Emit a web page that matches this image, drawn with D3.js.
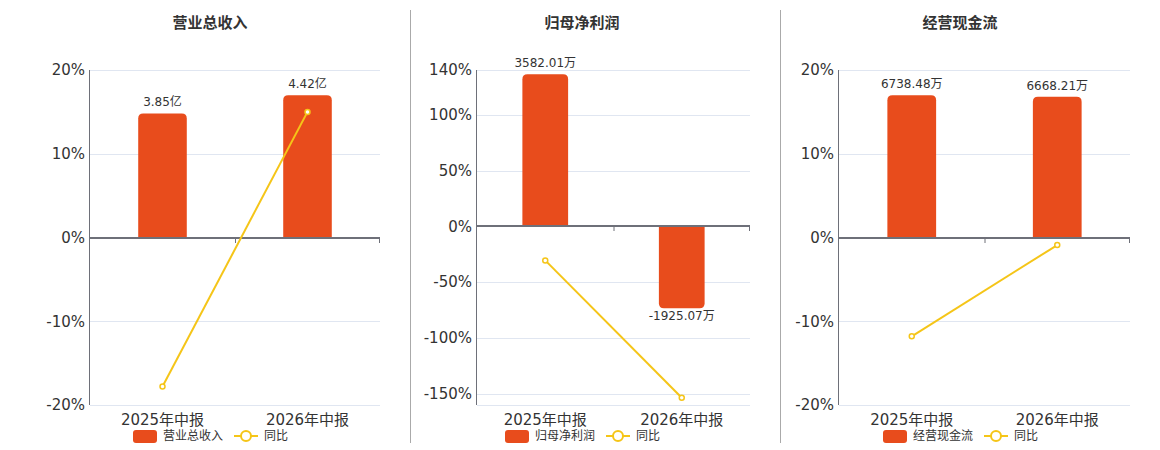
<!DOCTYPE html>
<html>
<head>
<meta charset="utf-8">
<script src="https://cdn.jsdelivr.net/npm/d3@7"></script>
<style>
  body { margin: 0; background: #fff; }
  text { font-family: "DejaVu Sans", "Noto Sans CJK SC", sans-serif; }
</style>
</head>
<body>
<div class="chart"></div>
<script>
var svgWidth = 1160;
var svgHeight = 450;

// data
var categories = ["2025年中报", "2026年中报"];
var titles = ["营业总收入", "归母净利润", "经营现金流"];

var revenueValues = [3.85, 4.42];
var revenueLabels = ["3.85亿", "4.42亿"];
var revenueYoy = [-17.8, 15.0];

var profitValues = [3582.01, -1925.07];
var profitLabels = ["3582.01万", "-1925.07万"];
var profitYoy = [-30.5, -153.5];

var cashValues = [6738.48, 6668.21];
var cashLabels = ["6738.48万", "6668.21万"];
var cashYoy = [-11.8, -0.9];

// percent axes and the hidden bar axes
var pctDomains = [[-20, 20], [-160, 140], [-20, 20]];
var pctTicks = [[-20, -10, 0, 10, 20], [-150, -100, -50, 0, 50, 100, 140], [-20, -10, 0, 10, 20]];
var barDomains = [[-5.2, 5.2], [-4200, 3680], [-7930, 7930]];

var barColor = "#e84c1c";
var lineColor = "#f5c518";

var panels = [
  { left: 90, right: 380, cx: 210, bars: revenueValues, labels: revenueLabels, yoy: revenueYoy },
  { left: 477, right: 750, cx: 582, bars: profitValues, labels: profitLabels, yoy: profitYoy },
  { left: 839, right: 1130, cx: 960, bars: cashValues, labels: cashLabels, yoy: cashYoy }
];
var plotTop = 70;
var plotBottom = 405;

var svg = d3.select(".chart")
  .append("svg")
  .attr("width", svgWidth)
  .attr("height", svgHeight);

// separators between the panels
[410.5, 780.5].forEach(function(x) {
  svg.append("line")
    .attr("x1", x).attr("x2", x)
    .attr("y1", 10).attr("y2", 443)
    .attr("stroke", "#aaa")
    .attr("stroke-width", 1);
});

// rounded on the far end only
function barPath(x, w, y0, y1, r) {
  var h = Math.abs(y1 - y0);
  r = Math.min(r, h, w / 2);
  if (y1 < y0) {
    return `M${x},${y0}V${y1 + r}Q${x},${y1} ${x + r},${y1}H${x + w - r}Q${x + w},${y1} ${x + w},${y1 + r}V${y0}Z`;
  }
  return `M${x},${y0}V${y1 - r}Q${x},${y1} ${x + r},${y1}H${x + w - r}Q${x + w},${y1} ${x + w},${y1 - r}V${y0}Z`;
}

panels.forEach(function(p, i) {
  var g = svg.append("g");

  var x = d3.scaleBand()
    .domain(categories)
    .range([p.left, p.right])
    .padding(0);

  var y = d3.scaleLinear()
    .domain(pctDomains[i])
    .range([plotBottom, plotTop]);

  var yBar = d3.scaleLinear()
    .domain(barDomains[i])
    .range([plotBottom, plotTop]);

  var barWidth = x.bandwidth() * 0.335;

  // title
  g.append("text")
    .attr("x", p.cx)
    .attr("y", 28)
    .attr("text-anchor", "middle")
    .attr("font-size", 15)
    .attr("font-weight", "bold")
    .attr("fill", "#333")
    .text(titles[i]);

  // grid lines
  g.selectAll(".grid")
    .data(pctTicks[i].concat([pctDomains[i][0]]))
    .enter()
    .append("line")
    .attr("x1", p.left).attr("x2", p.right)
    .attr("y1", d => Math.round(y(d)) + 0.5)
    .attr("y2", d => Math.round(y(d)) + 0.5)
    .attr("stroke", "#e0e6f1");

  // y tick labels
  g.selectAll(".ylab")
    .data(pctTicks[i])
    .enter()
    .append("text")
    .attr("x", p.left - 5)
    .attr("y", d => y(d))
    .attr("dy", "0.35em")
    .attr("text-anchor", "end")
    .attr("font-size", 15)
    .attr("fill", "#333")
    .text(d => d + "%");

  // bars
  g.selectAll(".bar")
    .data(p.bars)
    .enter()
    .append("path")
    .attr("fill", barColor)
    .attr("d", (d, j) => barPath(x(categories[j]) + (x.bandwidth() - barWidth) / 2, barWidth, yBar(0), yBar(d), 5));

  // value labels
  g.selectAll(".val")
    .data(p.bars)
    .enter()
    .append("text")
    .attr("x", (d, j) => x(categories[j]) + x.bandwidth() / 2)
    .attr("y", d => d >= 0 ? yBar(d) - 7 : yBar(d) + 12)
    .attr("text-anchor", "middle")
    .attr("font-size", 12)
    .attr("fill", "#333")
    .text((d, j) => p.labels[j]);

  // y axis line
  g.append("line")
    .attr("x1", p.left - 0.5).attr("x2", p.left - 0.5)
    .attr("y1", plotTop).attr("y2", plotBottom)
    .attr("stroke", "#6e7079");

  // zero axis with ticks at band edges
  var y0 = Math.round(y(0));
  g.append("line")
    .attr("x1", p.left).attr("x2", p.right)
    .attr("y1", y0).attr("y2", y0)
    .attr("stroke", "#6e7079")
    .attr("stroke-width", 2);

  g.selectAll(".tick")
    .data([categories[1]])
    .enter()
    .append("line")
    .attr("x1", d => x(d) + 0.5).attr("x2", d => x(d) + 0.5)
    .attr("y1", y0).attr("y2", y0 + 5)
    .attr("stroke", "#6e7079");
  g.append("line")
    .attr("x1", p.right - 0.5).attr("x2", p.right - 0.5)
    .attr("y1", y0).attr("y2", y0 + 5)
    .attr("stroke", "#6e7079");

  // x labels
  g.selectAll(".xlab")
    .data(categories)
    .enter()
    .append("text")
    .attr("x", d => x(d) + x.bandwidth() / 2)
    .attr("y", 425)
    .attr("text-anchor", "middle")
    .attr("font-size", 15)
    .attr("fill", "#333")
    .text(d => d);

  // yoy line
  var line = d3.line()
    .x((d, j) => x(categories[j]) + x.bandwidth() / 2)
    .y(d => y(d));

  g.append("path")
    .datum(p.yoy)
    .attr("d", line)
    .attr("fill", "none")
    .attr("stroke", lineColor)
    .attr("stroke-width", 2);

  g.selectAll(".pt")
    .data(p.yoy)
    .enter()
    .append("circle")
    .attr("cx", (d, j) => x(categories[j]) + x.bandwidth() / 2)
    .attr("cy", d => y(d))
    .attr("r", 2.5)
    .attr("fill", "#fff")
    .attr("stroke", lineColor)
    .attr("stroke-width", 1.5);

  // legend
  var lg = g.append("g").attr("transform", `translate(${p.cx}, 436)`);
  lg.append("rect")
    .attr("x", -77).attr("y", -6)
    .attr("width", 24).attr("height", 13)
    .attr("rx", 3)
    .attr("fill", barColor);
  lg.append("text")
    .attr("x", -47).attr("y", 0)
    .attr("dy", "0.35em")
    .attr("font-size", 12)
    .attr("fill", "#333")
    .text(titles[i]);
  lg.append("line")
    .attr("x1", 24).attr("x2", 48)
    .attr("y1", 0).attr("y2", 0)
    .attr("stroke", lineColor)
    .attr("stroke-width", 2);
  lg.append("circle")
    .attr("cx", 36).attr("cy", 0)
    .attr("r", 5)
    .attr("fill", "#fff")
    .attr("stroke", lineColor)
    .attr("stroke-width", 2);
  lg.append("text")
    .attr("x", 54).attr("y", 0)
    .attr("dy", "0.35em")
    .attr("font-size", 12)
    .attr("fill", "#333")
    .text("同比");
});
</script>
</body>
</html>
